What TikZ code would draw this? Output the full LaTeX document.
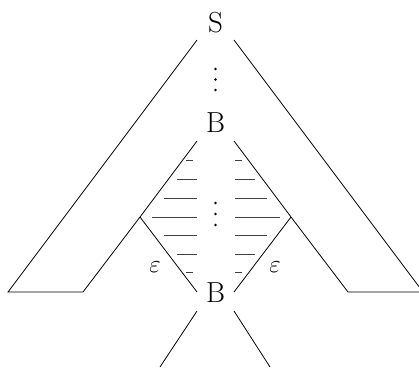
\documentclass[tikz,border=0pt]{standalone}
\begin{document}
\begin{tikzpicture}[x=1pt,y=-1pt,
  lbl/.style={font=\fontsize{29}{34}\selectfont, inner sep=0pt},
  edge/.style={line width=0.8pt, line join=miter},
  hatch/.style={line width=0.7pt, black!75},
  dotm/.style={circle, fill=black, inner sep=0pt, minimum size=2.8pt}]
\useasboundingbox (0,0) rectangle (419,367);
% labels
\node[lbl] (S) at (215.5,22.5) {S};
\node[lbl] (B1) at (215.5,123) {B};
\node[lbl] (B2) at (215.5,293) {B};
\node[lbl] (epsL) at (155,267) {$\varepsilon$};
\node[lbl] (epsR) at (275,267) {$\varepsilon$};
% dots
\node[dotm] (d1) at (215.5,69) {};
\node[dotm] (d2) at (215.5,79.5) {};
\node[dotm] (d3) at (215.5,90) {};
\node[dotm] (d4) at (215.5,203) {};
\node[dotm] (d5) at (215.5,214) {};
\node[dotm] (d6) at (215.5,225) {};
% coordinates
\coordinate (SL) at (197,40);
\coordinate (SR) at (234,40);
\coordinate (OL) at (8,292);
\coordinate (IL) at (83,292);
\coordinate (OR) at (423,292);
\coordinate (IR) at (348,292);
\coordinate (CL) at (140,217);
\coordinate (CR) at (291,217);
\coordinate (B1L) at (197,141);
\coordinate (B1R) at (234,141);
\coordinate (B2Lt) at (197,292);
\coordinate (B2Rt) at (234,292);
\coordinate (B2Lb) at (197,311);
\coordinate (B2Rb) at (234,311);
\coordinate (EL) at (160,367);
\coordinate (ER) at (270,367);
% outer shapes
\draw[edge] (SL) -- (OL) -- (IL) -- (CL) -- (B1L);
\draw[edge] (CL) -- (B2Lt);
\draw[edge] (SR) -- (OR) -- (IR) -- (CR) -- (B1R);
\draw[edge] (CR) -- (B2Rt);
\draw[edge] (B2Lb) -- (EL);
\draw[edge] (B2Rb) -- (ER);
% hatching
\foreach \y/\a/\b in {160/186/193, 179/177/197, 198/164/197, 217/152/197, 235.5/164/197, 254/177/197, 272.5/186/193}
  \draw[hatch] (\a,\y) -- (\b,\y);
\foreach \y/\a/\b in {160/235/242, 179/235/255, 198/235/267, 217/235/280, 235.5/235/267, 254/235/255, 272.5/235/242}
  \draw[hatch] (\a,\y) -- (\b,\y);
\end{tikzpicture}
\end{document}
